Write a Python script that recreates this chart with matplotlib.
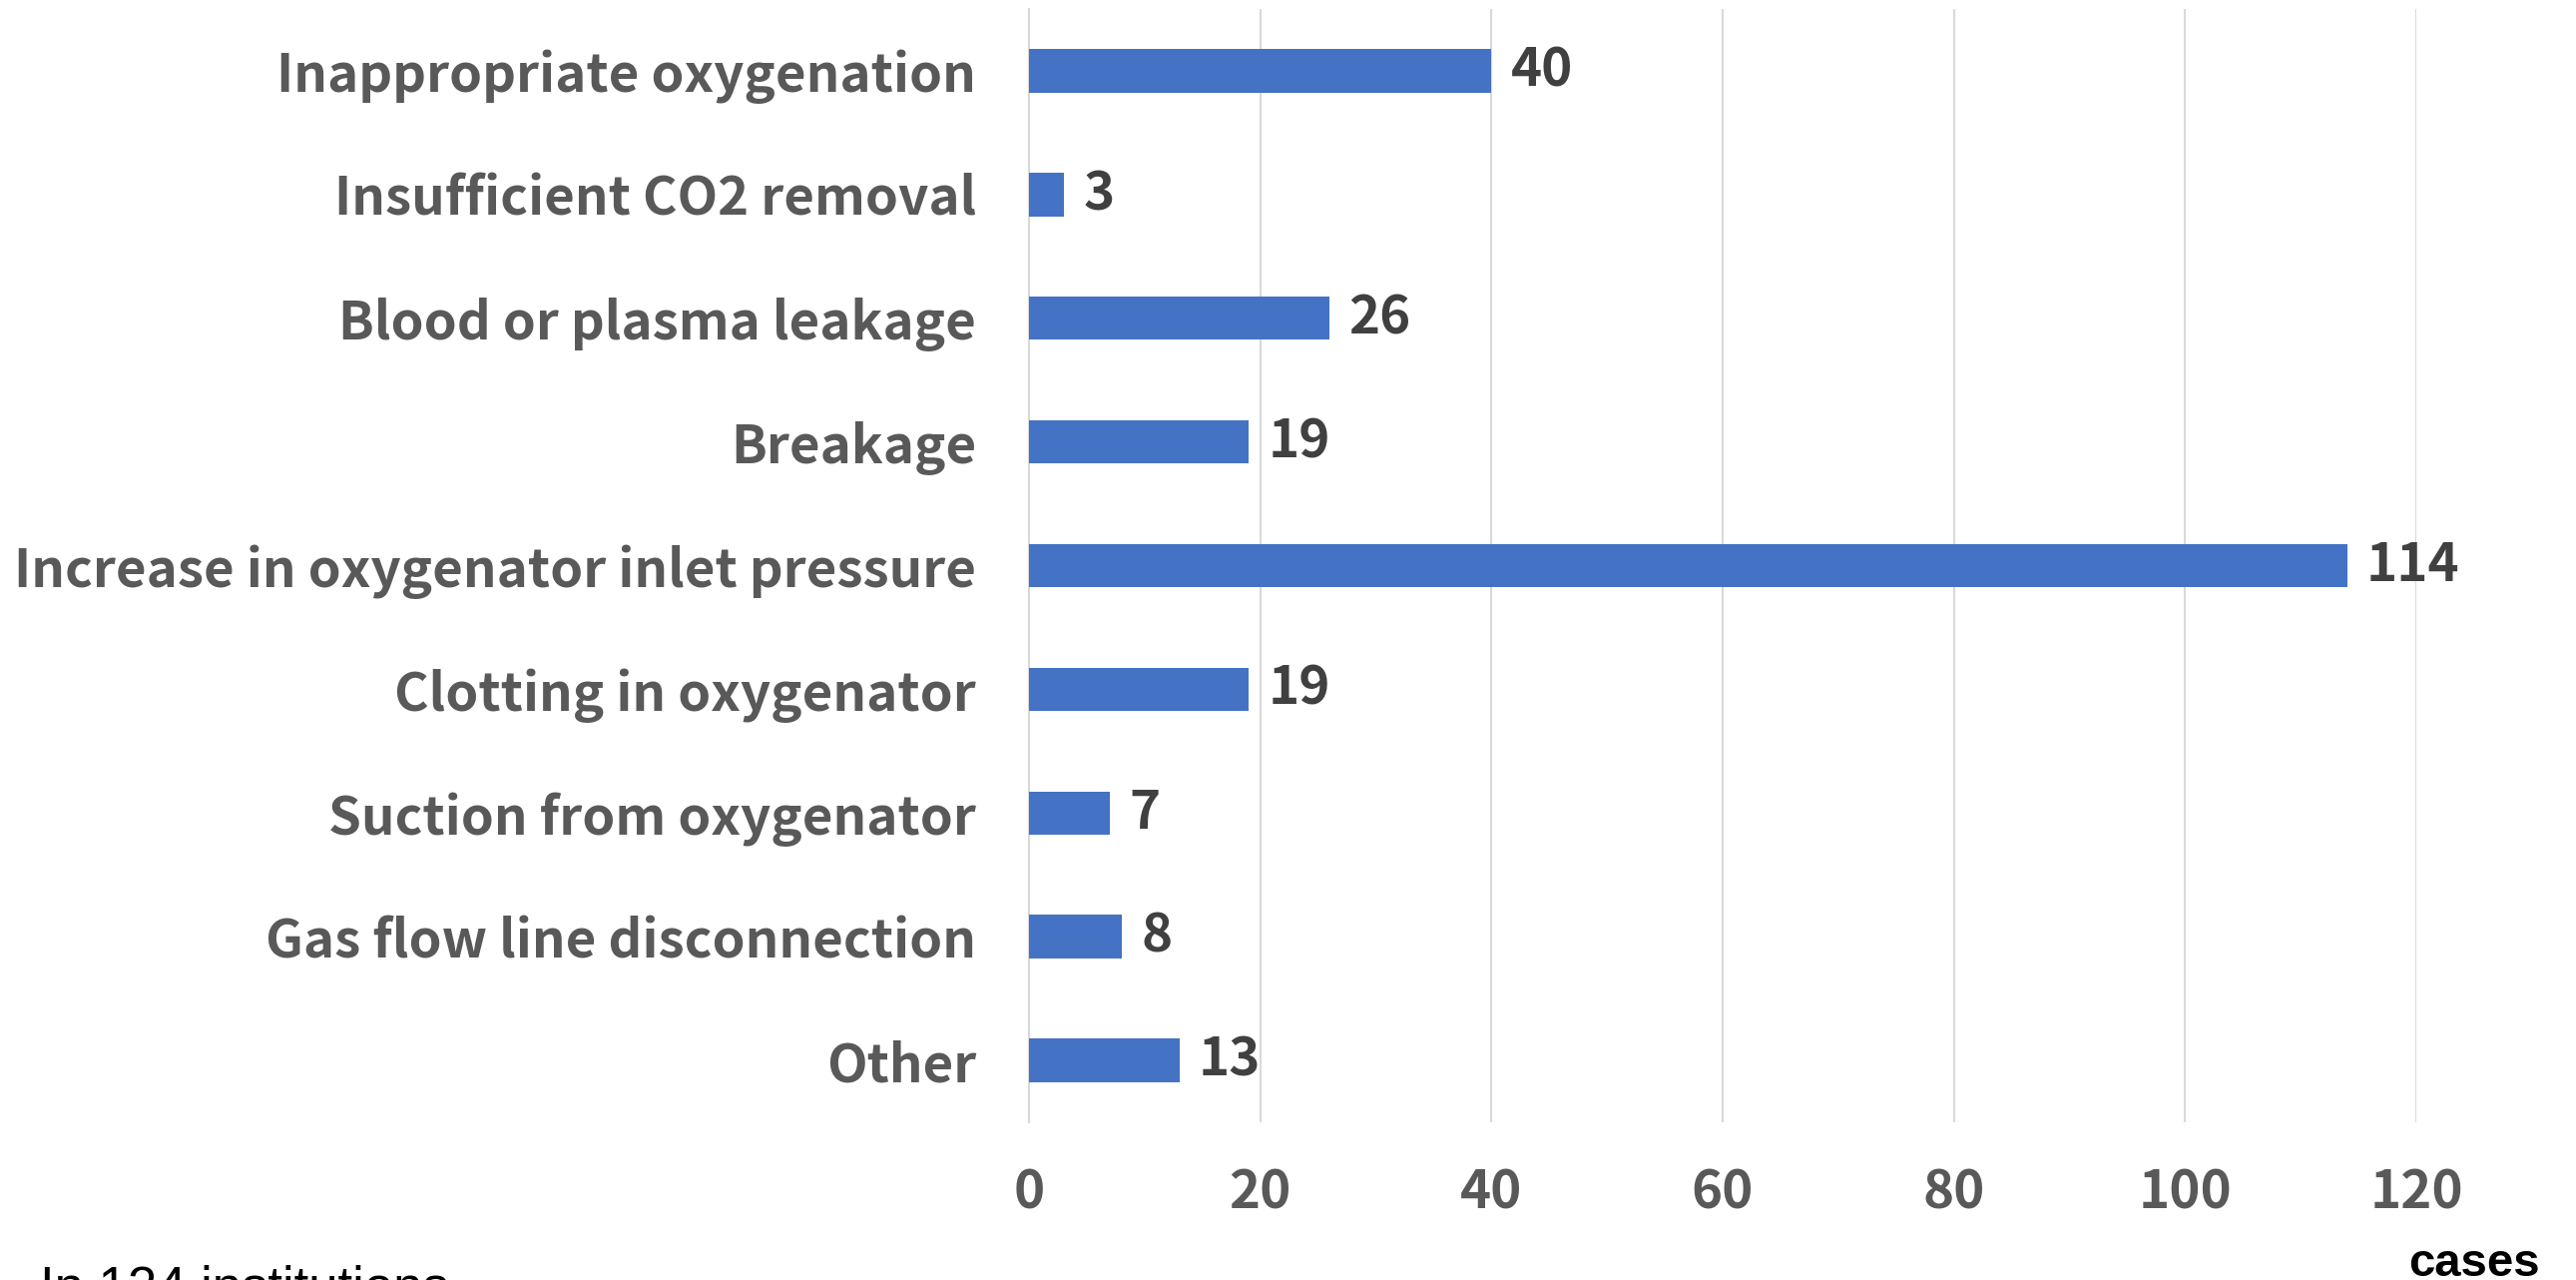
import numpy as np
import matplotlib
matplotlib.use("Agg")
import matplotlib.pyplot as plt

# data (top to bottom)
categories = [
    "Inappropriate oxygenation",
    "Insufficient CO2 removal",
    "Blood or plasma leakage",
    "Breakage",
    "Increase in oxygenator inlet pressure",
    "Clotting in oxygenator",
    "Suction from oxygenator",
    "Gas flow line disconnection",
    "Other",
]
cases = [40, 3, 26, 19, 114, 19, 7, 8, 13]
x_ticks = [0, 20, 40, 60, 80, 100, 120]

label_font = ["Noto Sans CJK JP", "DejaVu Sans"]
bar_color = "#4472C4"
grid_color = "#D9D9D9"

fig = plt.figure(figsize=(25.81, 12.82), dpi=100)
ax = fig.add_axes([1031 / 2581, 1 - 1124 / 1282, (2421 - 1031) / 2581, (1124 - 9) / 1282])

y_pos = np.arange(len(categories))
bars = ax.barh(y_pos, cases, height=0.35, color=bar_color, zorder=3)

ax.set_xlim(0, 120)
ax.set_ylim(len(categories) - 0.5, -0.5)
ax.set_xticks(x_ticks)
ax.set_yticks(y_pos)
ax.set_yticklabels(categories)

for lab in ax.get_yticklabels():
    lab.set_fontfamily(label_font)
    lab.set_fontweight("bold")
    lab.set_fontsize(38)
    lab.set_color("#595959")
for lab in ax.get_xticklabels():
    lab.set_fontfamily(label_font)
    lab.set_fontweight("bold")
    lab.set_fontsize(38)
    lab.set_color("#595959")

ax.tick_params(axis="y", length=0, pad=38)
ax.tick_params(axis="x", length=0, pad=32)

ax.grid(axis="x", color=grid_color, linewidth=1.5, zorder=0)
for side in ["top", "right", "bottom"]:
    ax.spines[side].set_visible(False)
ax.spines["left"].set_color(grid_color)
ax.spines["left"].set_linewidth(1.5)

# value labels next to each bar
texts = ax.bar_label(bars, labels=[str(v) for v in cases], padding=14, color="#404040")
for t in texts:
    t.set_fontfamily(label_font)
    t.set_fontweight("bold")
    t.set_fontsize(38)

fig.text(2545 / 2581, (1282 - 1278) / 1282, "cases", ha="right", va="baseline",
         fontsize=34, fontweight="bold", family="Liberation Sans", color="black")
fig.text(40 / 2581, (1282 - 1305) / 1282, "In 124 institutions", ha="left", va="baseline",
         fontsize=38, family="Liberation Sans", color="black")

fig.savefig("out.png", dpi=100)
